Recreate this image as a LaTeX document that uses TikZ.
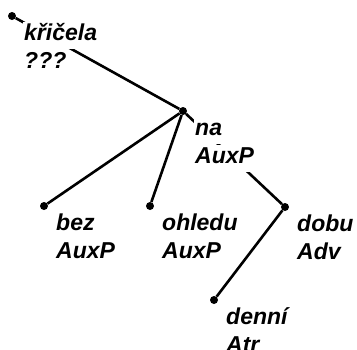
\documentclass[tikz,border=0pt]{standalone}
\usepackage{fontspec}
\setmainfont{Liberation Sans}
\usepackage{tikz}
\usetikzlibrary{positioning}

% bily podklad pod kazdym radkem popisku
\newcommand{\wline}[1]{{\setlength{\fboxsep}{1pt}\colorbox{white}{\strut #1}}}

\tikzset{
    dot/.style={circle, fill=black, inner sep=0pt, minimum size=8pt},
    edge/.style={line width=2.6pt},
    lbl/.style={inner sep=0pt, align=left,
        font=\fontsize{23}{25}\selectfont\bfseries\itshape}
}

\begin{document}
\begin{tikzpicture}[x=1pt, y=-1pt]
    \useasboundingbox (0,0) rectangle (357,349);

    % Uzly stromu
    \node[dot] (kricela) at (12,16) {};
    \node[dot] (na) at (183,111) {};
    \node[dot] (bez) at (44,206) {};
    \node[dot] (ohledu) at (150,206) {};
    \node[dot] (dobu) at (285,207) {};
    \node[dot] (denni) at (214,300) {};

    % Hrany
    \draw[edge] (kricela) -- (na);
    \draw[edge] (na) -- (bez);
    \draw[edge] (na) -- (ohledu);
    \draw[edge] (na) -- (dobu);
    \draw[edge] (dobu) -- (denni);

    % Popisky uzlů
    \node[lbl, below right=5.5pt and 11pt of kricela.center] (kricelalbl) {\wline{křičela}\\\wline{???}};
    \node[lbl, below right=5.5pt and 11pt of na.center] (nalbl) {\wline{na}\\\wline{AuxP}};
    \node[lbl, below right=5.5pt and 11pt of bez.center] (bezlbl) {\wline{bez}\\\wline{AuxP}};
    \node[lbl, below right=5.5pt and 11pt of ohledu.center] (ohledulbl) {\wline{ohledu}\\\wline{AuxP}};
    \node[lbl, below right=5.5pt and 11pt of dobu.center] (dobulbl) {\wline{dobu}\\\wline{Adv}};
    \node[lbl, below right=5.5pt and 11pt of denni.center] (dennilbl) {\wline{denní}\\\wline{Atr}};
\end{tikzpicture}
\end{document}
